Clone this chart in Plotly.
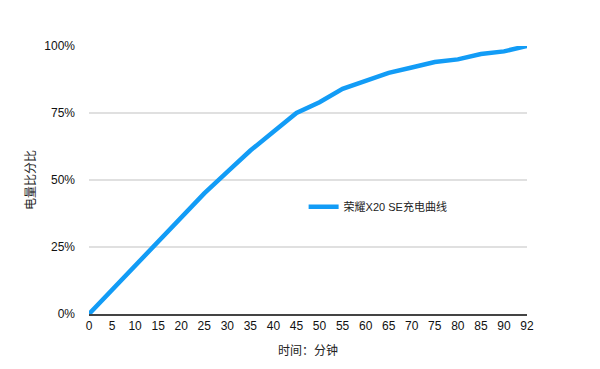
import plotly.graph_objects as go

minutes = ["0", "5", "10", "15", "20", "25", "30", "35", "40", "45", "50",
           "55", "60", "65", "70", "75", "80", "85", "90", "92"]
battery = [0, 9, 18, 27, 36, 45, 53, 61, 68, 75, 79,
           84, 87, 90, 92, 94, 95, 97, 98, 100]
battery_frac = [v / 100 for v in battery]
series_name = "荣耀X20 SE充电曲线"
y_ticks = [0, 0.25, 0.5, 0.75, 1.0]
y_ticktext = ["0%", "25%", "50%", "75%", "100%"]

FONT = "Liberation Sans, Noto Sans CJK SC, sans-serif"

fig = go.Figure()
fig.add_trace(go.Scatter(
    x=minutes, y=battery_frac, mode="lines", name=series_name,
    line=dict(color="#129cf6", width=4.5),
    showlegend=True,
))

fig.update_layout(
    width=600, height=369,
    margin=dict(l=89, r=73, t=46, b=55),
    paper_bgcolor="white", plot_bgcolor="white",
    font=dict(family=FONT, size=12, color="#222"),
    showlegend=True,
    legend=dict(x=0.49, y=0.40, xanchor="left", yanchor="middle",
                bgcolor="rgba(0,0,0,0)", itemwidth=30,
                font=dict(size=11, color="#222")),
    xaxis=dict(
        type="category", range=[0, 19], showgrid=False,
        showline=True, linecolor="#444", linewidth=2,
        ticks="", tickfont=dict(size=12, color="#111"),
        title=dict(text="时间：分钟", font=dict(size=12, color="#222"), standoff=14),
        zeroline=False,
    ),
    yaxis=dict(
        range=[0, 1.0], tickvals=y_ticks, ticktext=y_ticktext,
        showgrid=True, gridcolor="#e0e0e0", gridwidth=1.5,
        showline=False, zeroline=False, ticks="",
        ticklabelstandoff=13,
        tickfont=dict(size=12, color="#111"),
        title=dict(text="电量比分比", font=dict(size=12, color="#222"), standoff=6),
    ),
)

fig.write_html("out.html")
